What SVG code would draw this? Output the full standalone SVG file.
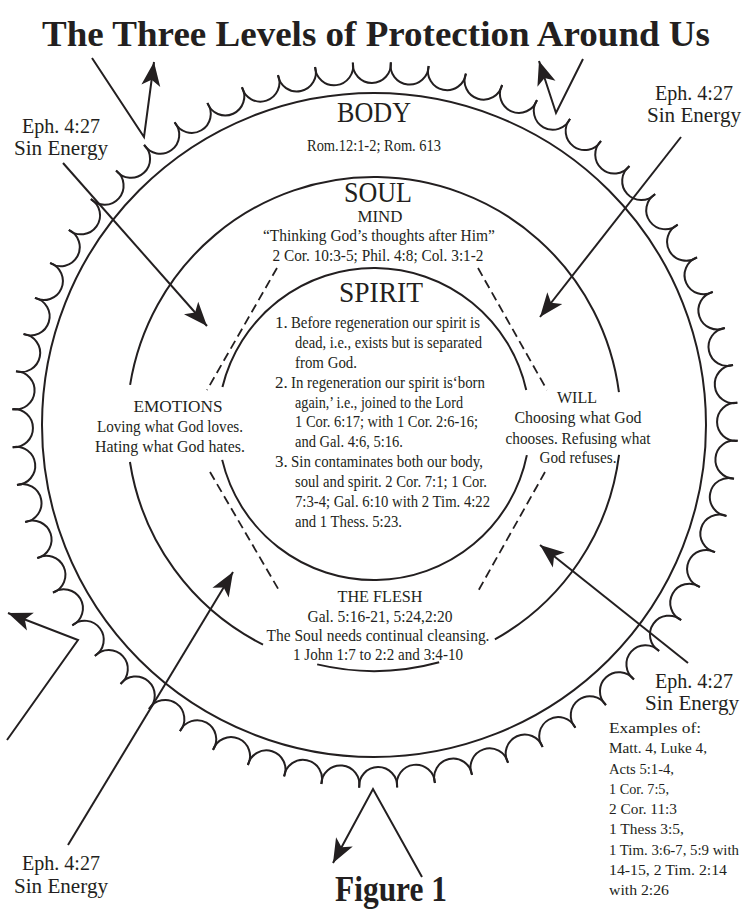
<svg xmlns="http://www.w3.org/2000/svg" xmlns:xlink="http://www.w3.org/1999/xlink" width="748" height="912" viewBox="0 0 748 912">
<style>
text{font-family:"Liberation Serif","Times New Roman",serif;fill:#231f20}
.b{font-weight:bold}
.h{font-size:30px}
.s{font-size:17px}
.x{font-size:15px}
.e{font-size:20px}
.m{text-anchor:middle}
.ln{fill:none;stroke:#231f20;stroke-width:2}
.dash{fill:none;stroke:#231f20;stroke-width:1.8;stroke-dasharray:9 5}
.arr{fill:none;stroke:#231f20;stroke-width:2;marker-end:url(#ah)}
</style>
<defs>
<marker id="ah" markerUnits="userSpaceOnUse" viewBox="-25 -10 26 20" refX="0" refY="0" markerWidth="26" markerHeight="20" orient="auto">
<path d="M0,0 L-24,-9.5 L-18,0 L-24,9.5 Z" fill="#231f20"/>
</marker>
<path id="sc" d="M356,62.5 A19.05,19.05 0 1 0 394,62.5" class="ln"/>
</defs>
<rect width="748" height="912" fill="#fff"/>

<g id="title">
<text class="b m" x="376" y="46" font-size="36" textLength="668" lengthAdjust="spacingAndGlyphs">The Three Levels of Protection Around Us</text>
</g>

<g id="rings">
<g id="scallops" transform="rotate(-0.5 375 425)">
<use xlink:href="#sc"/>
<use xlink:href="#sc" transform="rotate(6 375 425)"/>
<use xlink:href="#sc" transform="rotate(12 375 425)"/>
<use xlink:href="#sc" transform="rotate(18 375 425)"/>
<use xlink:href="#sc" transform="rotate(24 375 425)"/>
<use xlink:href="#sc" transform="rotate(30 375 425)"/>
<use xlink:href="#sc" transform="rotate(36 375 425)"/>
<use xlink:href="#sc" transform="rotate(42 375 425)"/>
<use xlink:href="#sc" transform="rotate(48 375 425)"/>
<use xlink:href="#sc" transform="rotate(54 375 425)"/>
<use xlink:href="#sc" transform="rotate(60 375 425)"/>
<use xlink:href="#sc" transform="rotate(66 375 425)"/>
<use xlink:href="#sc" transform="rotate(72 375 425)"/>
<use xlink:href="#sc" transform="rotate(78 375 425)"/>
<use xlink:href="#sc" transform="rotate(84 375 425)"/>
<use xlink:href="#sc" transform="rotate(90 375 425)"/>
<use xlink:href="#sc" transform="rotate(96 375 425)"/>
<use xlink:href="#sc" transform="rotate(102 375 425)"/>
<use xlink:href="#sc" transform="rotate(108 375 425)"/>
<use xlink:href="#sc" transform="rotate(114 375 425)"/>
<use xlink:href="#sc" transform="rotate(120 375 425)"/>
<use xlink:href="#sc" transform="rotate(126 375 425)"/>
<use xlink:href="#sc" transform="rotate(132 375 425)"/>
<use xlink:href="#sc" transform="rotate(138 375 425)"/>
<use xlink:href="#sc" transform="rotate(144 375 425)"/>
<use xlink:href="#sc" transform="rotate(150 375 425)"/>
<use xlink:href="#sc" transform="rotate(156 375 425)"/>
<use xlink:href="#sc" transform="rotate(162 375 425)"/>
<use xlink:href="#sc" transform="rotate(168 375 425)"/>
<use xlink:href="#sc" transform="rotate(174 375 425)"/>
<use xlink:href="#sc" transform="rotate(180 375 425)"/>
<use xlink:href="#sc" transform="rotate(186 375 425)"/>
<use xlink:href="#sc" transform="rotate(192 375 425)"/>
<use xlink:href="#sc" transform="rotate(198 375 425)"/>
<use xlink:href="#sc" transform="rotate(204 375 425)"/>
<use xlink:href="#sc" transform="rotate(210 375 425)"/>
<use xlink:href="#sc" transform="rotate(216 375 425)"/>
<use xlink:href="#sc" transform="rotate(222 375 425)"/>
<use xlink:href="#sc" transform="rotate(228 375 425)"/>
<use xlink:href="#sc" transform="rotate(234 375 425)"/>
<use xlink:href="#sc" transform="rotate(240 375 425)"/>
<use xlink:href="#sc" transform="rotate(246 375 425)"/>
<use xlink:href="#sc" transform="rotate(252 375 425)"/>
<use xlink:href="#sc" transform="rotate(258 375 425)"/>
<use xlink:href="#sc" transform="rotate(264 375 425)"/>
<use xlink:href="#sc" transform="rotate(270 375 425)"/>
<use xlink:href="#sc" transform="rotate(276 375 425)"/>
<use xlink:href="#sc" transform="rotate(282 375 425)"/>
<use xlink:href="#sc" transform="rotate(288 375 425)"/>
<use xlink:href="#sc" transform="rotate(294 375 425)"/>
<use xlink:href="#sc" transform="rotate(300 375 425)"/>
<use xlink:href="#sc" transform="rotate(306 375 425)"/>
<use xlink:href="#sc" transform="rotate(312 375 425)"/>
<use xlink:href="#sc" transform="rotate(318 375 425)"/>
<use xlink:href="#sc" transform="rotate(324 375 425)"/>
<use xlink:href="#sc" transform="rotate(330 375 425)"/>
<use xlink:href="#sc" transform="rotate(336 375 425)"/>
<use xlink:href="#sc" transform="rotate(342 375 425)"/>
<use xlink:href="#sc" transform="rotate(348 375 425)"/>
<use xlink:href="#sc" transform="rotate(354 375 425)"/>
</g>
<circle id="body-ring" cx="374" cy="425" r="332" class="ln"/>
<g id="soul-ring" class="ln">
<path d="M130.11,384.93 A247,247 0 0 1 618.94,392.19"/>
<path d="M619.05,454.96 A247,247 0 0 1 494.88,639.40"/>
<path d="M439.18,662.25 A247,247 0 0 1 317.18,664.38"/>
<path d="M263.02,644.66 A247,247 0 0 1 129.94,462.00"/>
</g>
<g id="spirit-ring" class="ln">
<path d="M222.44,387.05 A156,156 0 0 1 526.24,389.97"/>
<path d="M526.87,455.10 A156,156 0 0 1 222.18,459.89"/>
</g>
<g id="dividers" class="dash">
<path d="M277,268 L207,390"/>
<path d="M478,268 L547,390"/>
<path d="M210,472 L280,592"/>
<path d="M545,472 L477,593"/>
</g>
</g>

<g id="body">
<text class="h m" x="374" y="122" textLength="74" lengthAdjust="spacingAndGlyphs">BODY</text>
<text class="s m" x="374" y="151" textLength="134" lengthAdjust="spacingAndGlyphs">Rom.12:1-2; Rom. 613</text>
</g>

<g id="soul">
<text class="h m" x="378" y="202" textLength="68" lengthAdjust="spacingAndGlyphs">SOUL</text>
<text class="s m" x="380" y="222" textLength="45" lengthAdjust="spacingAndGlyphs">MIND</text>
<text class="s m" x="379" y="241" textLength="232" lengthAdjust="spacingAndGlyphs">“Thinking God’s thoughts after Him”</text>
<text class="s m" x="378" y="261" textLength="211" lengthAdjust="spacingAndGlyphs">2 Cor. 10:3-5; Phil. 4:8; Col. 3:1-2</text>
</g>

<g id="spirit">
<text class="h m" x="381" y="302" textLength="84" lengthAdjust="spacingAndGlyphs">SPIRIT</text>
<text class="s" x="275" y="328">1.</text>
<text class="s" x="291" y="328" textLength="189" lengthAdjust="spacingAndGlyphs">Before regeneration our spirit is</text>
<text class="s" x="295" y="348" textLength="187" lengthAdjust="spacingAndGlyphs">dead, i.e., exists but is separated</text>
<text class="s" x="295" y="368" textLength="62" lengthAdjust="spacingAndGlyphs">from God.</text>
<text class="s" x="275" y="388">2.</text>
<text class="s" x="291" y="388" textLength="194" lengthAdjust="spacingAndGlyphs">In regeneration our spirit is‘born</text>
<text class="s" x="295" y="408" textLength="168" lengthAdjust="spacingAndGlyphs">again,’ i.e., joined to the Lord</text>
<text class="s" x="295" y="427" textLength="183" lengthAdjust="spacingAndGlyphs">1 Cor. 6:17; with 1 Cor. 2:6-16;</text>
<text class="s" x="295" y="447" textLength="108" lengthAdjust="spacingAndGlyphs">and Gal. 4:6, 5:16.</text>
<text class="s" x="275" y="467">3.</text>
<text class="s" x="291" y="467" textLength="192" lengthAdjust="spacingAndGlyphs">Sin contaminates both our body,</text>
<text class="s" x="295" y="487" textLength="192" lengthAdjust="spacingAndGlyphs">soul and spirit. 2 Cor. 7:1; 1 Cor.</text>
<text class="s" x="295" y="507" textLength="195" lengthAdjust="spacingAndGlyphs">7:3-4; Gal. 6:10 with 2 Tim. 4:22</text>
<text class="s" x="295" y="527" textLength="107" lengthAdjust="spacingAndGlyphs">and 1 Thess. 5:23.</text>
</g>

<g id="emotions">
<text class="s m" x="178" y="412" textLength="89" lengthAdjust="spacingAndGlyphs">EMOTIONS</text>
<text class="s m" x="170" y="432" textLength="146" lengthAdjust="spacingAndGlyphs">Loving what God loves.</text>
<text class="s m" x="170" y="452" textLength="150" lengthAdjust="spacingAndGlyphs">Hating what God hates.</text>
</g>

<g id="will">
<text class="s m" x="577" y="403" textLength="40" lengthAdjust="spacingAndGlyphs">WILL</text>
<text class="s m" x="578" y="423" textLength="127" lengthAdjust="spacingAndGlyphs">Choosing what God</text>
<text class="s m" x="578" y="444" textLength="145" lengthAdjust="spacingAndGlyphs">chooses. Refusing what</text>
<text class="s m" x="578" y="463" textLength="77" lengthAdjust="spacingAndGlyphs">God refuses.</text>
</g>

<g id="flesh">
<text class="s m" x="380" y="602" textLength="85" lengthAdjust="spacingAndGlyphs">THE FLESH</text>
<text class="s m" x="380" y="622" textLength="145" lengthAdjust="spacingAndGlyphs">Gal. 5:16-21, 5:24,2:20</text>
<text class="s m" x="378" y="641" textLength="223" lengthAdjust="spacingAndGlyphs">The Soul needs continual cleansing.</text>
<text class="s m" x="378" y="660" textLength="170" lengthAdjust="spacingAndGlyphs">1 John 1:7 to 2:2 and 3:4-10</text>
</g>

<g id="eph-upper-left">
<text class="e m" x="61" y="133" textLength="78" lengthAdjust="spacingAndGlyphs">Eph. 4:27</text>
<text class="e m" x="61" y="155" textLength="94" lengthAdjust="spacingAndGlyphs">Sin Energy</text>
</g>
<g id="eph-upper-right">
<text class="e m" x="694" y="100" textLength="78" lengthAdjust="spacingAndGlyphs">Eph. 4:27</text>
<text class="e m" x="694" y="122" textLength="94" lengthAdjust="spacingAndGlyphs">Sin Energy</text>
</g>
<g id="eph-lower-right">
<text class="e m" x="694" y="688" textLength="78" lengthAdjust="spacingAndGlyphs">Eph. 4:27</text>
<text class="e m" x="692" y="710" textLength="94" lengthAdjust="spacingAndGlyphs">Sin Energy</text>
<text class="x" x="609" y="733" textLength="92" lengthAdjust="spacingAndGlyphs">Examples of:</text>
<text class="x" x="609" y="753" textLength="98" lengthAdjust="spacingAndGlyphs">Matt. 4, Luke 4,</text>
<text class="x" x="609" y="774" textLength="65" lengthAdjust="spacingAndGlyphs">Acts 5:1-4,</text>
<text class="x" x="609" y="794" textLength="60" lengthAdjust="spacingAndGlyphs">1 Cor. 7:5,</text>
<text class="x" x="609" y="814" textLength="68" lengthAdjust="spacingAndGlyphs">2 Cor. 11:3</text>
<text class="x" x="609" y="834" textLength="75" lengthAdjust="spacingAndGlyphs">1 Thess 3:5,</text>
<text class="x" x="609" y="855" textLength="130" lengthAdjust="spacingAndGlyphs">1 Tim. 3:6-7, 5:9 with</text>
<text class="x" x="609" y="875" textLength="118" lengthAdjust="spacingAndGlyphs">14-15, 2 Tim. 2:14</text>
<text class="x" x="609" y="895" textLength="60" lengthAdjust="spacingAndGlyphs">with 2:26</text>
</g>
<g id="eph-lower-left">
<text class="e m" x="61" y="870" textLength="78" lengthAdjust="spacingAndGlyphs">Eph. 4:27</text>
<text class="e m" x="61" y="893" textLength="94" lengthAdjust="spacingAndGlyphs">Sin Energy</text>
</g>

<g id="connectors">
<path class="arr" d="M63,163 L207,326"/>
<path class="arr" d="M681,137 L540,317"/>
<path class="arr" d="M688,663 L540,545"/>
<path class="arr" d="M68,845 L233,572"/>
<path class="arr" d="M92,58 L144,137 L154,62"/>
<path class="arr" d="M583,59 L556,113 L539,61"/>
<path class="arr" d="M7,740 L78,640 L8,613"/>
<path class="arr" d="M422,877 L373,789 L333,863"/>
</g>

<g id="caption">
<text class="b m" x="391" y="901" font-size="36" textLength="112" lengthAdjust="spacingAndGlyphs">Figure 1</text>
</g>
</svg>
